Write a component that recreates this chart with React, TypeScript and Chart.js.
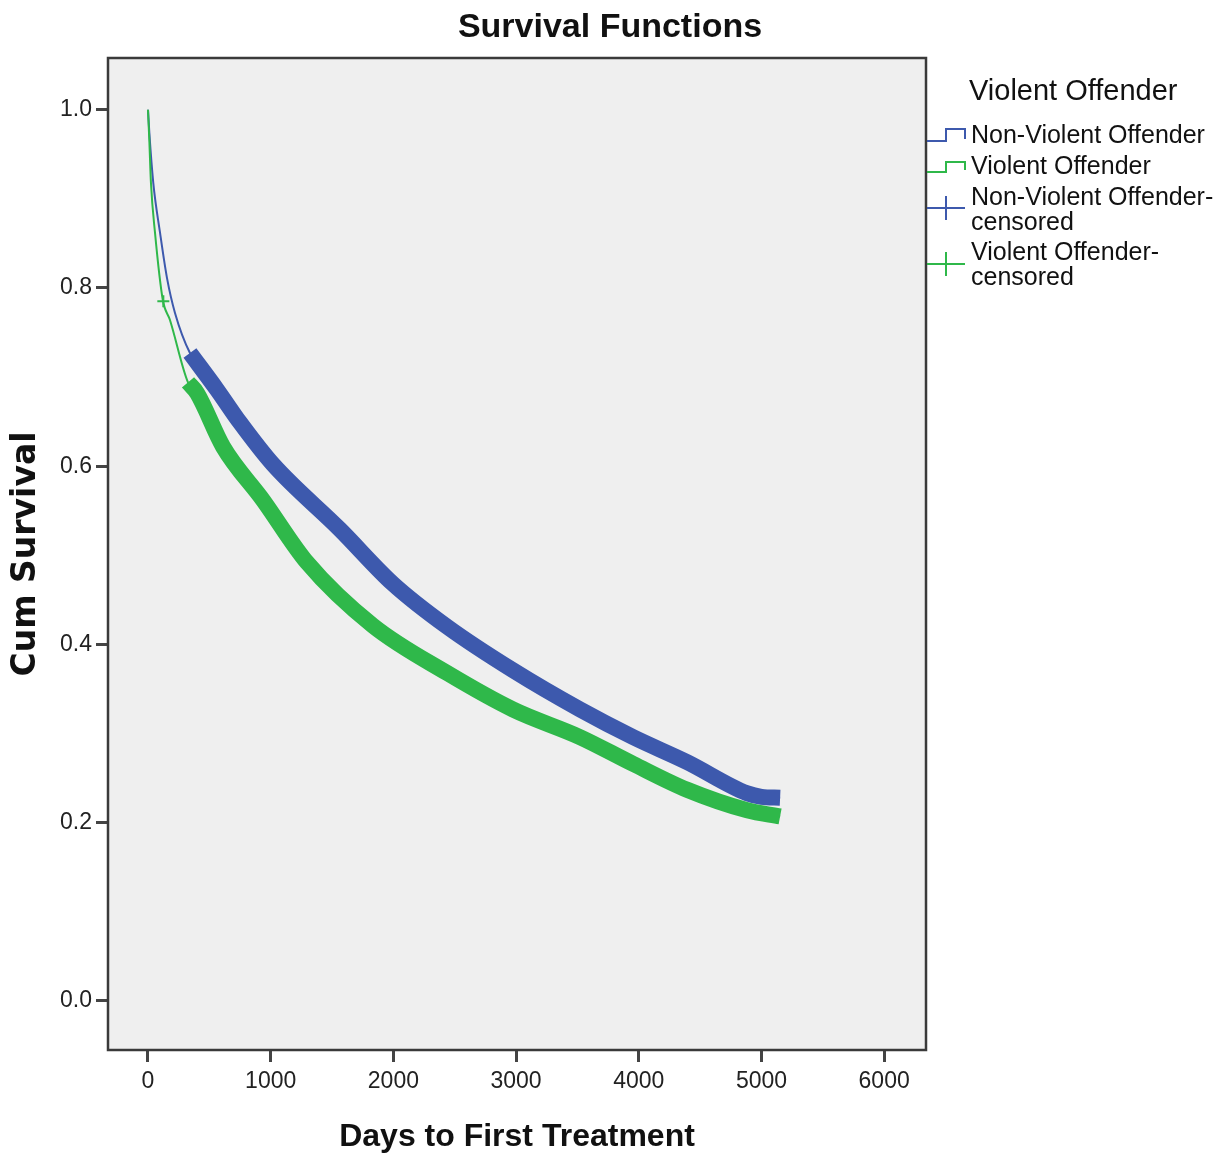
import React, { useEffect, useRef } from "react";
import { Chart, registerables } from "chart.js";

Chart.register(...registerables);

// ---- data ----
const xTicks = [0, 1000, 2000, 3000, 4000, 5000, 6000];
const yTicks = [0, 0.2, 0.4, 0.6, 0.8, 1.0];

const nonViolentDays = [0, 11, 43, 98, 155, 220, 342, 562, 750, 1019, 1565, 1997, 2437, 2975, 3522, 3954, 4394, 4883, 5000, 5152];
const nonViolentSurv = [1.0, 0.974, 0.918, 0.862, 0.811, 0.772, 0.727, 0.686, 0.649, 0.602, 0.529, 0.468, 0.42, 0.371, 0.327, 0.296, 0.268, 0.233, 0.229, 0.228];

const violentDays = [0, 11, 24, 57, 120, 179, 326, 400, 611, 937, 1296, 1834, 2437, 2975, 3522, 3954, 4394, 4883, 5152];
const violentSurv = [1.0, 0.965, 0.918, 0.862, 0.787, 0.764, 0.694, 0.682, 0.622, 0.562, 0.492, 0.421, 0.368, 0.327, 0.296, 0.266, 0.237, 0.214, 0.207];

const nonViolentCensorFrom = 342;
const violentCensorFrom = 326;
const violentEarlyCensorDays = [125];
const violentEarlyCensorSurv = [0.785];

const legendTitle = "Violent Offender";
const seriesNames = ["Non-Violent Offender", "Violent Offender"];

const BLUE = "#3d59ad";
const GREEN = "#2fb84a";

const toPts = (xs: number[], ys: number[], from = -Infinity) =>
  xs.map((x, i) => ({ x, y: ys[i] })).filter((p) => p.x >= from);

export default function App() {
  const ref = useRef<HTMLCanvasElement | null>(null);

  useEffect(() => {
    const canvas = ref.current!;
    const framePlugin = {
      id: "frame",
      beforeDatasetsDraw(chart: any) {
        const { ctx, chartArea: a } = chart;
        ctx.save();
        ctx.fillStyle = "#efefef";
        ctx.fillRect(a.left, a.top, a.right - a.left, a.bottom - a.top);
        ctx.restore();
      },
      afterDraw(chart: any) {
        const { ctx, chartArea: a } = chart;
        ctx.save();
        ctx.strokeStyle = "#3a3a3a";
        ctx.lineWidth = 2.5;
        ctx.strokeRect(a.left, a.top, a.right - a.left, a.bottom - a.top);

        // titles
        ctx.fillStyle = "#111";
        ctx.textAlign = "center";
        ctx.textBaseline = "middle";
        ctx.font = 'bold 34px "Liberation Sans"';
        ctx.fillText("Survival Functions", 610, 28);
        ctx.font = 'bold 32px "Liberation Sans"';
        ctx.fillText("Days to First Treatment", (a.left + a.right) / 2, 1137);
        ctx.save();
        ctx.translate(26, (a.top + a.bottom) / 2);
        ctx.rotate(-Math.PI / 2);
        ctx.font = 'bold 33px "DejaVu Sans"';
        ctx.fillText("Cum Survival", 0, 0);
        ctx.restore();

        // legend
        ctx.textAlign = "left";
        ctx.font = '29px "Liberation Sans"';
        ctx.fillText(legendTitle, 969, 92);
        ctx.font = '25px "Liberation Sans"';
        ctx.lineWidth = 2;
        const step = (color: string, yLow: number, yHigh: number) => {
          ctx.strokeStyle = color;
          ctx.beginPath();
          ctx.moveTo(927, yLow);
          ctx.lineTo(946, yLow);
          ctx.lineTo(946, yHigh);
          ctx.lineTo(965, yHigh);
          ctx.lineTo(965, yLow - 2);
          ctx.stroke();
        };
        const cross = (color: string, y: number) => {
          ctx.strokeStyle = color;
          ctx.beginPath();
          ctx.moveTo(927, y);
          ctx.lineTo(965, y);
          ctx.moveTo(946, y - 12);
          ctx.lineTo(946, y + 12);
          ctx.stroke();
        };
        step(BLUE, 141, 129);
        ctx.fillText(seriesNames[0], 971, 136);
        step(GREEN, 172, 162);
        ctx.fillText(seriesNames[1], 971, 167);
        cross(BLUE, 208);
        ctx.fillText(seriesNames[0] + "-", 971, 198);
        ctx.fillText("censored", 971, 223);
        cross(GREEN, 264);
        ctx.fillText(seriesNames[1] + "-", 971, 253);
        ctx.fillText("censored", 971, 278);
        ctx.restore();
      },
    };

    const chart = new Chart(canvas, {
      type: "line",
      data: {
        datasets: [
          {
            label: "Violent Offender-censored early",
            data: toPts(violentEarlyCensorDays, violentEarlyCensorSurv),
            showLine: false,
            pointStyle: "cross",
            pointRadius: 6,
            borderWidth: 2,
            borderColor: GREEN,
            backgroundColor: GREEN,
            order: 0,
          },
          {
            label: "Violent Offender-censored",
            data: toPts(violentDays, violentSurv, violentCensorFrom),
            borderColor: GREEN,
            borderWidth: 16,
            pointRadius: 0,
            cubicInterpolationMode: "monotone",
            order: 1,
          },
          {
            label: "Violent Offender",
            data: toPts(violentDays, violentSurv),
            borderColor: GREEN,
            borderWidth: 2,
            pointRadius: 0,
            cubicInterpolationMode: "monotone",
            order: 2,
          },
          {
            label: "Non-Violent Offender-censored",
            data: toPts(nonViolentDays, nonViolentSurv, nonViolentCensorFrom),
            borderColor: BLUE,
            borderWidth: 16,
            pointRadius: 0,
            cubicInterpolationMode: "monotone",
            order: 3,
          },
          {
            label: "Non-Violent Offender",
            data: toPts(nonViolentDays, nonViolentSurv),
            borderColor: BLUE,
            borderWidth: 2,
            pointRadius: 0,
            cubicInterpolationMode: "monotone",
            order: 4,
          },
        ],
      },
      options: {
        animation: false,
        responsive: false,
        maintainAspectRatio: false,
        layout: { padding: { top: 58, right: 294, left: 0, bottom: 0 } },
        plugins: {
          legend: { display: false },
          title: { display: false },
          tooltip: { enabled: false },
        },
        scales: {
          x: {
            type: "linear",
            min: -326,
            max: 6341,
            afterBuildTicks: (s: any) => {
              s.ticks = xTicks.map((v) => ({ value: v }));
            },
            afterFit: (s: any) => {
              s.height = 112;
            },
            ticks: {
              color: "#222",
              font: { family: "Liberation Sans", size: 23 },
              padding: 6,
              maxRotation: 0,
              autoSkip: false,
              callback: (v: any) => String(v),
            },
            grid: { drawOnChartArea: false, drawTicks: true, tickLength: 12, color: "#444", lineWidth: 3 },
            border: { display: false },
          },
          y: {
            type: "linear",
            min: -0.055,
            max: 1.058,
            afterBuildTicks: (s: any) => {
              s.ticks = yTicks.map((v) => ({ value: v }));
            },
            afterFit: (s: any) => {
              s.width = 108;
            },
            ticks: {
              color: "#222",
              font: { family: "Liberation Sans", size: 23 },
              padding: 4,
              autoSkip: false,
              callback: (v: any) => Number(v).toFixed(1),
            },
            grid: { drawOnChartArea: false, drawTicks: true, tickLength: 12, color: "#444", lineWidth: 3 },
            border: { display: false },
          },
        },
      },
      plugins: [framePlugin],
    } as any);
    return () => chart.destroy();
  }, []);

  return (
    <div style={{ position: "absolute", left: 0, top: 0, width: 1220, height: 1162, background: "#fff" }}>
      <canvas ref={ref} width={1220} height={1162} style={{ width: 1220, height: 1162, display: "block" }} />
    </div>
  );
}
